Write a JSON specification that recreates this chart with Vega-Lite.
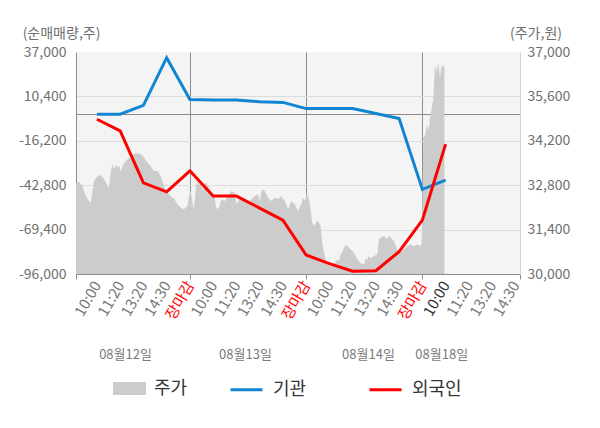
{
  "$schema": "https://vega.github.io/schema/vega-lite/v6.json",
  "width": 444,
  "height": 222,
  "autosize": {"type": "none"},
  "padding": {"left": 76, "top": 52, "right": 80, "bottom": 154},
  "background": "white",
  "config": {
    "font": "Noto Sans CJK KR",
    "view": {"fill": "#f4f4f4", "stroke": null},
    "axis": {"labelFont": "Noto Sans CJK KR", "titleFont": "Noto Sans CJK KR", "labelColor": "#707070", "titleColor": "#707070", "titleFontWeight": "normal", "zindex": 1},
    "legend": {"labelFont": "Noto Sans CJK KR", "labelFontSize": 18, "labelColor": "#333333"}
  },
  "datasets": {
    "price": [
      {"u": 0.1, "p": 32885}, {"u": 0.23, "p": 32905}, {"u": 0.37, "p": 32780}, {"u": 0.52, "p": 32460},
      {"u": 0.66, "p": 32300}, {"u": 0.73, "p": 32250}, {"u": 0.8, "p": 32570}, {"u": 0.87, "p": 32935},
      {"u": 1.02, "p": 33075}, {"u": 1.16, "p": 33125}, {"u": 1.3, "p": 33010}, {"u": 1.45, "p": 32780},
      {"u": 1.52, "p": 32705}, {"u": 1.59, "p": 33200}, {"u": 1.66, "p": 33465}, {"u": 1.73, "p": 33305},
      {"u": 1.81, "p": 33430}, {"u": 1.88, "p": 33360}, {"u": 1.95, "p": 33430}, {"u": 2.02, "p": 33250},
      {"u": 2.09, "p": 33360}, {"u": 2.16, "p": 33495}, {"u": 2.31, "p": 33620}, {"u": 2.45, "p": 33675},
      {"u": 2.59, "p": 33780}, {"u": 2.74, "p": 33810}, {"u": 2.88, "p": 33780}, {"u": 3.02, "p": 33675},
      {"u": 3.17, "p": 33515}, {"u": 3.31, "p": 33410}, {"u": 3.45, "p": 33250}, {"u": 3.6, "p": 33250},
      {"u": 3.74, "p": 33095}, {"u": 3.88, "p": 32780}, {"u": 4.03, "p": 32570}, {"u": 4.17, "p": 32460},
      {"u": 4.31, "p": 32380}, {"u": 4.46, "p": 32200}, {"u": 4.6, "p": 32095}, {"u": 4.75, "p": 32040},
      {"u": 4.89, "p": 32145}, {"u": 4.96, "p": 32460}, {"u": 5.03, "p": 32620}, {"u": 5.1, "p": 32350},
      {"u": 5.14, "p": 32040}, {"u": 5.21, "p": 32305}, {"u": 5.27, "p": 32800}, {"u": 5.35, "p": 32905},
      {"u": 5.42, "p": 32800}, {"u": 5.49, "p": 32905}, {"u": 5.56, "p": 32620}, {"u": 5.64, "p": 32830},
      {"u": 5.7, "p": 32885}, {"u": 5.78, "p": 32780}, {"u": 5.92, "p": 32570}, {"u": 6.07, "p": 32410},
      {"u": 6.13, "p": 32095}, {"u": 6.21, "p": 32040}, {"u": 6.28, "p": 32145}, {"u": 6.35, "p": 32360},
      {"u": 6.5, "p": 32305}, {"u": 6.64, "p": 32460}, {"u": 6.78, "p": 32620}, {"u": 6.93, "p": 32570},
      {"u": 7.0, "p": 32200}, {"u": 7.07, "p": 32305}, {"u": 7.21, "p": 32380}, {"u": 7.36, "p": 32305},
      {"u": 7.5, "p": 32250}, {"u": 7.64, "p": 32360}, {"u": 7.79, "p": 32460}, {"u": 7.93, "p": 32515},
      {"u": 8.0, "p": 32305}, {"u": 8.07, "p": 32570}, {"u": 8.14, "p": 32675}, {"u": 8.22, "p": 32620},
      {"u": 8.36, "p": 32410}, {"u": 8.5, "p": 32305}, {"u": 8.65, "p": 32410}, {"u": 8.79, "p": 32360},
      {"u": 8.93, "p": 32460}, {"u": 9.08, "p": 32305}, {"u": 9.22, "p": 32040}, {"u": 9.36, "p": 32305},
      {"u": 9.51, "p": 32200}, {"u": 9.65, "p": 31990}, {"u": 9.79, "p": 32200}, {"u": 9.86, "p": 32410},
      {"u": 9.94, "p": 32305}, {"u": 10.01, "p": 32515}, {"u": 10.05, "p": 32515}, {"u": 10.12, "p": 32360},
      {"u": 10.19, "p": 32040}, {"u": 10.26, "p": 31620}, {"u": 10.34, "p": 31510}, {"u": 10.41, "p": 31620},
      {"u": 10.48, "p": 31670}, {"u": 10.55, "p": 31620}, {"u": 10.62, "p": 31510}, {"u": 10.69, "p": 30985},
      {"u": 10.77, "p": 30670}, {"u": 10.84, "p": 30460}, {"u": 10.91, "p": 30300}, {"u": 11.05, "p": 30250},
      {"u": 11.2, "p": 30300}, {"u": 11.34, "p": 30460}, {"u": 11.41, "p": 30405}, {"u": 11.48, "p": 30620},
      {"u": 11.55, "p": 30670}, {"u": 11.63, "p": 30830}, {"u": 11.7, "p": 30930}, {"u": 11.77, "p": 30880},
      {"u": 11.92, "p": 30775}, {"u": 12.06, "p": 30670}, {"u": 12.2, "p": 30460}, {"u": 12.35, "p": 30340},
      {"u": 12.49, "p": 30300}, {"u": 12.56, "p": 30500}, {"u": 12.63, "p": 30460}, {"u": 12.7, "p": 30565},
      {"u": 12.78, "p": 30500}, {"u": 12.92, "p": 30565}, {"u": 13.06, "p": 30620}, {"u": 13.13, "p": 31095},
      {"u": 13.21, "p": 31150}, {"u": 13.35, "p": 31200}, {"u": 13.49, "p": 31095}, {"u": 13.56, "p": 31200},
      {"u": 13.64, "p": 31150}, {"u": 13.78, "p": 31040}, {"u": 13.92, "p": 30775}, {"u": 14.07, "p": 30670},
      {"u": 14.21, "p": 30775}, {"u": 14.35, "p": 30880}, {"u": 14.49, "p": 30930}, {"u": 14.64, "p": 30880},
      {"u": 14.78, "p": 30930}, {"u": 14.92, "p": 30880}, {"u": 14.97, "p": 30970}, {"u": 15.04, "p": 34310},
      {"u": 15.12, "p": 34365}, {"u": 15.19, "p": 34730}, {"u": 15.26, "p": 34520}, {"u": 15.33, "p": 34900},
      {"u": 15.4, "p": 35215}, {"u": 15.47, "p": 35500}, {"u": 15.54, "p": 36550}, {"u": 15.61, "p": 36395},
      {"u": 15.68, "p": 36650}, {"u": 15.76, "p": 36210}, {"u": 15.83, "p": 36600}, {"u": 15.89, "p": 36500},
      {"u": 15.95, "p": 36600}
    ],
    "flow": [
      {"i": 1, "v": -300, "s": "기관"}, {"i": 2, "v": -300, "s": "기관"}, {"i": 3, "v": 5000, "s": "기관"},
      {"i": 4, "v": 33600, "s": "기관"}, {"i": 5, "v": 8500, "s": "기관"}, {"i": 6, "v": 8300, "s": "기관"},
      {"i": 7, "v": 8200, "s": "기관"}, {"i": 8, "v": 7200, "s": "기관"}, {"i": 9, "v": 6800, "s": "기관"},
      {"i": 10, "v": 3100, "s": "기관"}, {"i": 11, "v": 3100, "s": "기관"}, {"i": 12, "v": 3100, "s": "기관"},
      {"i": 13, "v": 200, "s": "기관"}, {"i": 14, "v": -2900, "s": "기관"}, {"i": 15, "v": -45300, "s": "기관"},
      {"i": 16, "v": -39800, "s": "기관"},
      {"i": 1, "v": -3300, "s": "외국인"}, {"i": 2, "v": -10300, "s": "외국인"}, {"i": 3, "v": -41400, "s": "외국인"},
      {"i": 4, "v": -46800, "s": "외국인"}, {"i": 5, "v": -34200, "s": "외국인"}, {"i": 6, "v": -49300, "s": "외국인"},
      {"i": 7, "v": -49300, "s": "외국인"}, {"i": 8, "v": -56500, "s": "외국인"}, {"i": 9, "v": -63700, "s": "외국인"},
      {"i": 10, "v": -84600, "s": "외국인"}, {"i": 11, "v": -89800, "s": "외국인"}, {"i": 12, "v": -94300, "s": "외국인"},
      {"i": 13, "v": -94000, "s": "외국인"}, {"i": 14, "v": -82600, "s": "외국인"}, {"i": 15, "v": -63700, "s": "외국인"},
      {"i": 16, "v": -18200, "s": "외국인"}
    ]
  },
  "layer": [
    {
      "data": {"name": "price"},
      "mark": {"type": "area", "strokeWidth": 0},
      "encoding": {
        "x": {
          "field": "u", "type": "quantitative",
          "scale": {"domain": [0.1, 19.2], "nice": false, "zero": false},
          "axis": {
            "orient": "bottom", "offset": 80, "values": [2.21, 7.37, 12.66, 15.81],
            "labelExpr": "datum.value < 5 ? '08월12일' : datum.value < 10 ? '08월13일' : datum.value < 15 ? '08월14일' : '08월18일'",
            "domain": false, "ticks": false, "grid": false, "labelPadding": 0,
            "labelAngle": 0, "labelAlign": "center", "labelBaseline": "middle",
            "labelFontSize": 13, "labelColor": "#7a7a7a", "title": null
          }
        },
        "y": {
          "field": "p", "type": "quantitative",
          "scale": {"domain": [30000, 37000], "nice": false, "zero": false},
          "axis": {
            "orient": "right", "values": [30000, 31400, 32800, 34200, 35600, 37000], "format": ",.0f",
            "grid": false, "ticks": false, "domainColor": "#d4d4d4", "labelPadding": 7,
            "labelFontSize": 14, "title": "(주가,원)", "titleAngle": 0, "titleAlign": "center",
            "titleBaseline": "middle", "titleX": 15.5, "titleY": -19, "titleFontSize": 14
          }
        },
        "y2": {"datum": 30000},
        "fill": {
          "datum": "주가", "type": "nominal",
          "scale": {"range": ["#cccccc"]},
          "legend": {
            "orient": "none", "legendX": 37, "legendY": 320, "title": null,
            "symbolType": "M-1,-0.394H1V0.394H-1Z", "symbolSize": 1089, "symbolStrokeWidth": 0,
            "labelOffset": 8
          }
        }
      }
    },
    {
      "data": {"name": "flow"},
      "mark": {"type": "line", "strokeWidth": 3},
      "encoding": {
        "x": {
          "field": "i", "type": "quantitative",
          "axis": {
            "orient": "bottom",
            "values": [0.1, 1, 2, 3, 4, 5, 6, 7, 8, 9, 10, 11, 12, 13, 14, 15, 16, 17, 18, 19, 19.2],
            "labelExpr": "datum.value < 1 || datum.value > 19 ? '' : datum.value % 5 == 0 ? '장마감' : ['10:00', '11:20', '13:20', '14:30'][(datum.value - 1) % 5]",
            "labelAngle": -60, "labelAlign": "right", "labelBaseline": "middle", "labelFontSize": 15,
            "labelPadding": 3, "labelBound": false, "labelOverlap": false,
            "labelColor": {"condition": [
              {"test": "datum.value % 5 == 0", "value": "#ff0000"},
              {"test": "datum.value == 16", "value": "#333333"}
            ], "value": "#7a7a7a"},
            "domainColor": "#8c8c8c", "tickColor": "#8c8c8c", "tickSize": 5,
            "tickOpacity": {"condition": {"test": "datum.value % 5 == 0 || datum.value < 1 || datum.value > 19", "value": 1}, "value": 0},
            "grid": true, "gridColor": "#8c8c8c",
            "gridOpacity": {"condition": {"test": "datum.value % 5 == 0", "value": 1}, "value": 0},
            "title": null
          }
        },
        "y": {
          "field": "v", "type": "quantitative",
          "scale": {"domain": [-96000, 37000], "nice": false, "zero": false},
          "axis": {
            "orient": "left", "values": [37000, 10400, -16200, -42800, -69400, -96000, 0], "format": ",.0f",
            "labelExpr": "datum.value == 0 ? '' : replace(datum.label, '−', '-')",
            "ticks": false, "domainColor": "#8c8c8c", "labelPadding": 10, "labelFontSize": 14,
            "grid": true,
            "gridColor": {"condition": {"test": "datum.value == 0", "value": "#8c8c8c"}, "value": "#dddddd"},
            "gridOpacity": {"condition": {"test": "datum.value == 37000", "value": 0}, "value": 1},
            "title": "(순매매량,주)", "titleAngle": 0, "titleAlign": "center", "titleBaseline": "middle",
            "titleX": -15, "titleY": -19, "titleFontSize": 14
          }
        },
        "stroke": {
          "field": "s", "type": "nominal",
          "scale": {"domain": ["기관", "외국인"], "range": ["#1185d2", "#ff0000"]},
          "legend": {
            "orient": "none", "legendX": 153, "legendY": 320, "direction": "horizontal", "title": null,
            "symbolType": "stroke", "symbolSize": 1024, "symbolStrokeWidth": 3,
            "labelOffset": 9, "columnPadding": 56
          }
        }
      }
    }
  ],
  "resolve": {"scale": {"y": "independent"}, "axis": {"x": "independent"}}
}
